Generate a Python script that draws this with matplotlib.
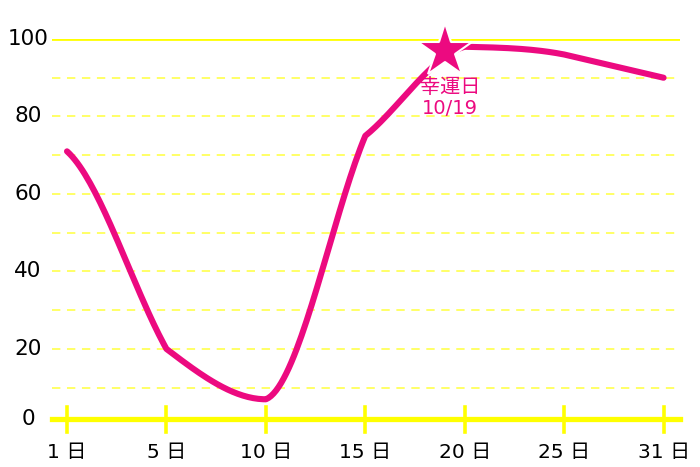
import matplotlib
matplotlib.use("Agg")
import matplotlib.pyplot as plt
import numpy as np

plt.rcParams['font.family'] = ['DejaVu Sans', 'Noto Sans CJK JP']

days = ["1", "5", "10", "15", "20", "25", "31"]
scores = [71, 20, 7, 75, 98, 96, 90]
lucky_pos = 3.8          # 10/19 sits 4/5 of the way from 15 to 20
lucky_score = 97
lucky_label = "幸運日\n10/19"
y_ticks = [0, 20, 40, 60, 80, 100]

PINK = "#ec0a80"
YELLOW = "#ffff00"
PALE_YELLOW = "#ffff66"

# tangent factors (start, end) per segment, relative to the segment slope;
# the source curve is hand-shaped with corners at the knots
bend = [(0.45, 0.9), (1.5, 0.0), (0.15, 0.9), (0.9, 0.3), (0.3, 2.5), (1.0, 1.0)]


def bent_curve(x, y, factors, n=40):
    xs, ys = [], []
    t = np.linspace(0, 1, n)
    h00 = 2 * t**3 - 3 * t**2 + 1
    h10 = t**3 - 2 * t**2 + t
    h01 = -2 * t**3 + 3 * t**2
    h11 = t**3 - t**2
    for i in range(len(x) - 1):
        h = x[i + 1] - x[i]
        s = (y[i + 1] - y[i]) / h
        a, b = factors[i]
        xs.append(x[i] + t * h)
        ys.append(h00 * y[i] + h10 * h * a * s + h01 * y[i + 1] + h11 * h * b * s)
    return np.concatenate(xs), np.concatenate(ys)


fig = plt.figure(figsize=(7, 4.67), dpi=100)
ax = fig.add_axes([52 / 700, 40.6 / 467, 627.6 / 700, 387.4 / 467])
ax.set_xlim(-0.151, 6.161)
ax.set_ylim(0, 100)
ax.axis("off")

base = 1.8   # the drawn x axis sits a little above zero

# grid
for v in range(10, 100, 10):
    ax.axhline(v, color=PALE_YELLOW, lw=1.4, dashes=(4.3, 3.4), zorder=1)
ax.axhline(100, color=YELLOW, lw=2.0, zorder=1)
ax.axhline(base, color=YELLOW, lw=3.8, zorder=2, clip_on=False)

idx = np.arange(len(days))
for i in idx:
    ax.plot([i, i], [base - 3.2, base + 3.2], color=YELLOW, lw=2.6, clip_on=False, zorder=2)
    ax.text(i, base - 8.5, f"{days[i]} 日", ha="center", va="center", fontsize=14.5, color="black")

for v in y_ticks:
    ax.text(-0.0382, v if v else base, str(v), transform=ax.get_yaxis_transform(),
            ha="center", va="center", fontsize=15.5, color="black")

cx, cy = bent_curve(idx, scores, bend)
ax.plot(cx, cy, color=PINK, lw=4.4, solid_capstyle="round", zorder=3, clip_on=False)

ax.plot([lucky_pos], [lucky_score], marker="*", markersize=41, color=PINK,
        markeredgecolor="white", markeredgewidth=1.5, zorder=4, clip_on=False)
line1, line2 = lucky_label.split("\n")
ax.text(lucky_pos + 0.05, 87.4, line1, ha="center", va="center", fontsize=14.5, color=PINK, zorder=4)
ax.text(lucky_pos + 0.05, 82.0, line2, ha="center", va="center", fontsize=14, color=PINK, zorder=4)

fig.savefig("out.png", dpi=100)
